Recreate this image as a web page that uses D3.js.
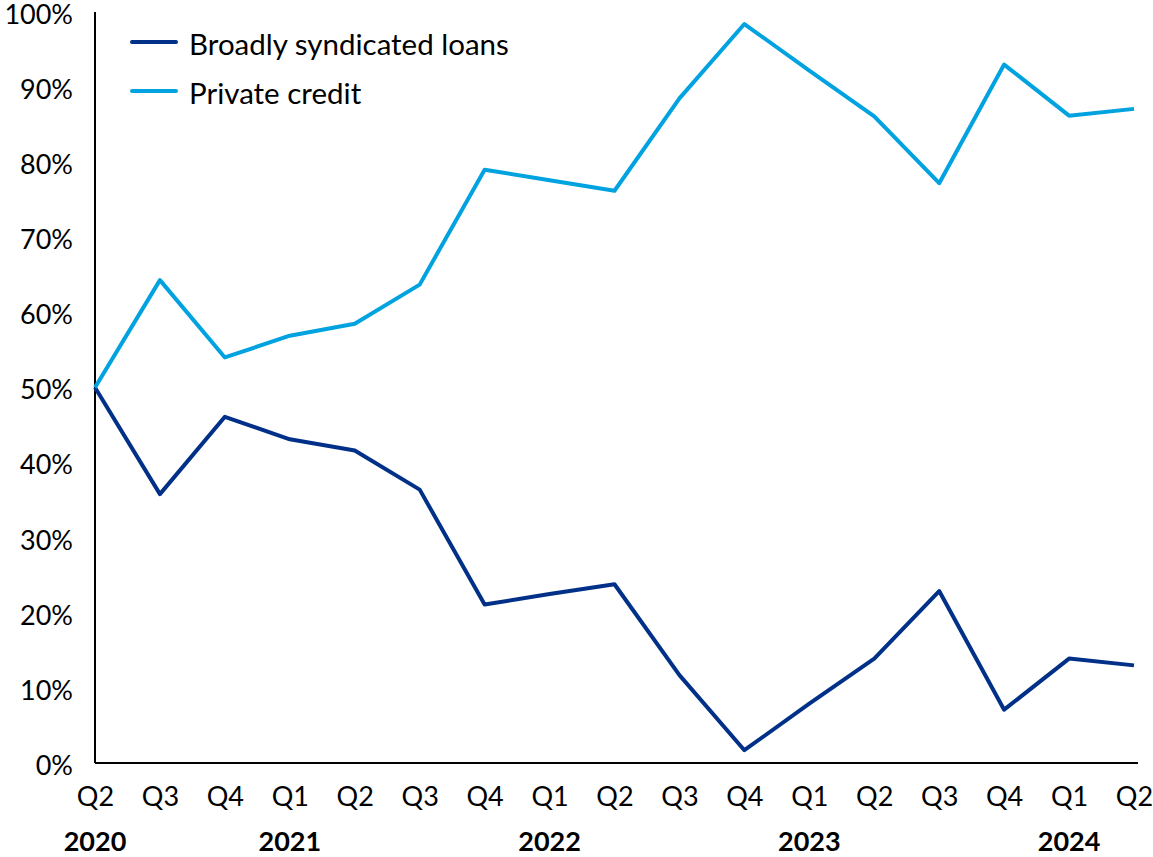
<!DOCTYPE html>
<html>
<head>
<meta charset="utf-8">
<script src="https://cdn.jsdelivr.net/npm/d3@7"></script>
<style>
  html, body { margin: 0; padding: 0; background: #ffffff; }
  svg { display: block; }
  text { font-family: Lato, "Open Sans", sans-serif; fill: #000; }
</style>
</head>
<body>
<svg id="chart" width="1153" height="857"></svg>
<script>
// Quarter labels along the x axis (Q2 2020 – Q2 2024)
const quarters = ["Q2","Q3","Q4","Q1","Q2","Q3","Q4","Q1","Q2","Q3","Q4","Q1","Q2","Q3","Q4","Q1","Q2"];
// Year labels and the quarter index each one sits under
const years = ["2020","2021","2022","2023","2024"];
const yearIndex = [0, 3, 7, 11, 15];

// Share of deals (%) by financing source
const broadlySyndicated = [50.0, 35.8, 46.1, 43.1, 41.6, 36.4, 21.1, 22.5, 23.8, 11.7, 1.7, 7.9, 13.9, 22.9, 7.1, 13.9, 13.0];
const privateCredit     = [50.0, 64.3, 54.0, 56.9, 58.5, 63.7, 79.0, 77.6, 76.2, 88.5, 98.4, 92.2, 86.1, 77.2, 93.0, 86.2, 87.1];

const yTicks = [0, 10, 20, 30, 40, 50, 60, 70, 80, 90, 100];

const seriesNames = ["Broadly syndicated loans", "Private credit"];
const seriesColors = ["#003087", "#00A3E0"];

const svg = d3.select("#chart");

const x = d3.scalePoint()
  .domain(d3.range(quarters.length))
  .range([95, 1134]);

const y = d3.scaleLinear()
  .domain([0, 100])
  .range([763, 12]);

// Y axis: vertical rule with percentage labels, no tick marks
const yAxis = d3.axisLeft(y)
  .tickValues(yTicks)
  .tickSize(0)
  .tickPadding(22)
  .tickFormat(d => d + "%");

const gy = svg.append("g")
  .attr("transform", `translate(${x(0)},0)`)
  .call(yAxis);
gy.select(".domain").attr("stroke", "#000").attr("stroke-width", 2).attr("d", `M0,${y(100)}V${y(0)}`);
gy.selectAll("text")
  .attr("font-size", 27)
  .attr("dy", "0.42em")
  .attr("font-family", "Lato, sans-serif");

// X axis: horizontal rule with quarter labels
const xAxis = d3.axisBottom(x)
  .tickSize(0)
  .tickPadding(24)
  .tickFormat(i => quarters[i]);

const gx = svg.append("g")
  .attr("transform", `translate(0,${y(0)})`)
  .call(xAxis);
gx.select(".domain").attr("stroke", "#000").attr("stroke-width", 2)
  .attr("d", `M${x(0)},0H${x(quarters.length - 1) + 4}`);
gx.selectAll("text")
  .attr("font-size", 27)
  .attr("font-family", "Lato, sans-serif");

// Year labels under the first quarter shown for each year
svg.append("g")
  .selectAll("text")
  .data(years)
  .join("text")
  .attr("x", (d, i) => x(yearIndex[i]))
  .attr("y", 851)
  .attr("text-anchor", "middle")
  .attr("font-size", 27)
  .attr("font-weight", "bold")
  .text(d => d);

// Lines
const line = d3.line()
  .x((d, i) => x(i))
  .y(d => y(d));

[broadlySyndicated, privateCredit].forEach((vals, k) => {
  svg.append("path")
    .datum(vals)
    .attr("fill", "none")
    .attr("stroke", seriesColors[k])
    .attr("stroke-width", 4)
    .attr("stroke-linejoin", "round")
    .attr("d", line);
});

// Legend
const legend = svg.append("g");
seriesNames.forEach((name, k) => {
  const ly = 42 + k * 49;
  legend.append("line")
    .attr("x1", 132).attr("x2", 176)
    .attr("y1", ly).attr("y2", ly)
    .attr("stroke", seriesColors[k])
    .attr("stroke-width", 4)
    .attr("stroke-linecap", "round");
  legend.append("text")
    .attr("x", 189)
    .attr("y", ly + 2)
    .attr("dy", "0.36em")
    .attr("font-size", 29.5)
    .text(name);
});
</script>
</body>
</html>
